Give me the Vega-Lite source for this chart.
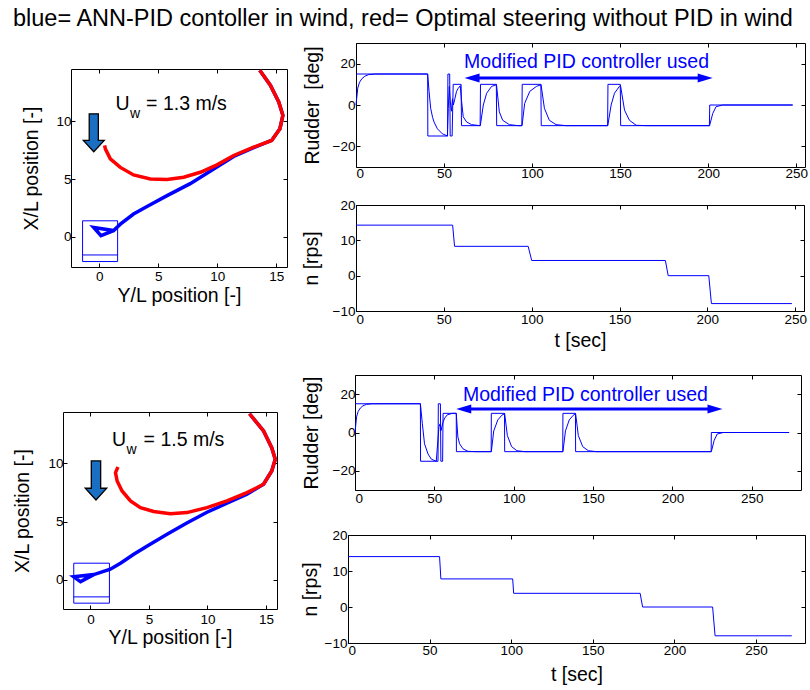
{
  "$schema": "https://vega.github.io/schema/vega-lite/v6.json",
  "padding": {"left": 12, "top": 6, "right": 0, "bottom": 0},
  "title": {"text": "blue= ANN-PID contoller in wind, red= Optimal steering without PID in wind", "anchor": "start", "frame": "group", "dx": -50, "fontSize": 23.5, "fontWeight": "normal", "color": "black", "offset": 12},
  "datasets": {
    "traj1": [
      {"p":"blue","i":0,"x":13.59,"y":14.4},{"p":"blue","i":1,"x":14.49,"y":13.1},{"p":"blue","i":2,"x":15.2,"y":11.65},{"p":"blue","i":3,"x":15.55,"y":10.5},{"p":"blue","i":4,"x":15.3,"y":9.34},{"p":"blue","i":5,"x":14.6,"y":8.33},{"p":"blue","i":6,"x":13.08,"y":7.7},{"p":"blue","i":7,"x":11.38,"y":6.95},{"p":"blue","i":8,"x":9.69,"y":5.87},{"p":"blue","i":9,"x":7.7,"y":4.6},{"p":"blue","i":10,"x":5.74,"y":3.56},{"p":"blue","i":11,"x":4.0,"y":2.6},{"p":"blue","i":12,"x":2.9,"y":1.97},{"p":"blue","i":13,"x":1.78,"y":1.1},{"p":"blue","i":14,"x":1.21,"y":0.55},{"p":"blue","i":15,"x":-0.48,"y":0.82},{"p":"blue","i":16,"x":0.14,"y":0.1},{"p":"blue","i":17,"x":1.21,"y":0.55},
      {"p":"red","i":0,"x":13.59,"y":14.4},{"p":"red","i":1,"x":14.49,"y":13.1},{"p":"red","i":2,"x":15.2,"y":11.65},{"p":"red","i":3,"x":15.55,"y":10.5},{"p":"red","i":4,"x":15.3,"y":9.34},{"p":"red","i":5,"x":14.6,"y":8.33},{"p":"red","i":6,"x":13.08,"y":7.75},{"p":"red","i":7,"x":11.38,"y":7.03},{"p":"red","i":8,"x":9.97,"y":6.22},{"p":"red","i":9,"x":8.56,"y":5.58},{"p":"red","i":10,"x":7.15,"y":5.15},{"p":"red","i":11,"x":5.74,"y":4.95},{"p":"red","i":12,"x":4.32,"y":5.0},{"p":"red","i":13,"x":2.9,"y":5.35},{"p":"red","i":14,"x":1.78,"y":6.0},{"p":"red","i":15,"x":0.93,"y":6.74},{"p":"red","i":16,"x":0.51,"y":7.6},{"p":"red","i":17,"x":0.45,"y":7.9}
    ],
    "traj2": [
      {"p":"blue","i":0,"x":13.6,"y":14.25},{"p":"blue","i":1,"x":14.8,"y":12.77},{"p":"blue","i":2,"x":15.5,"y":11.34},{"p":"blue","i":3,"x":15.8,"y":10.34},{"p":"blue","i":4,"x":15.5,"y":9.34},{"p":"blue","i":5,"x":14.8,"y":8.2},{"p":"blue","i":6,"x":13.38,"y":7.35},{"p":"blue","i":7,"x":11.67,"y":6.57},{"p":"blue","i":8,"x":9.96,"y":5.8},{"p":"blue","i":9,"x":8.2,"y":4.85},{"p":"blue","i":10,"x":6.55,"y":3.91},{"p":"blue","i":11,"x":5.0,"y":3.0},{"p":"blue","i":12,"x":3.7,"y":2.2},{"p":"blue","i":13,"x":2.6,"y":1.45},{"p":"blue","i":14,"x":1.7,"y":0.91},{"p":"blue","i":15,"x":0.28,"y":0.45},{"p":"blue","i":16,"x":-1.43,"y":0.26},{"p":"blue","i":17,"x":-0.85,"y":-0.15},{"p":"blue","i":18,"x":0.28,"y":0.45},
      {"p":"red","i":0,"x":13.6,"y":14.25},{"p":"red","i":1,"x":14.8,"y":12.77},{"p":"red","i":2,"x":15.5,"y":11.34},{"p":"red","i":3,"x":15.8,"y":10.34},{"p":"red","i":4,"x":15.5,"y":9.34},{"p":"red","i":5,"x":14.8,"y":8.2},{"p":"red","i":6,"x":13.38,"y":7.48},{"p":"red","i":7,"x":11.67,"y":6.77},{"p":"red","i":8,"x":9.96,"y":6.2},{"p":"red","i":9,"x":8.25,"y":5.77},{"p":"red","i":10,"x":6.83,"y":5.68},{"p":"red","i":11,"x":5.4,"y":5.86},{"p":"red","i":12,"x":4.27,"y":6.2},{"p":"red","i":13,"x":3.42,"y":6.77},{"p":"red","i":14,"x":2.7,"y":7.63},{"p":"red","i":15,"x":2.28,"y":8.48},{"p":"red","i":16,"x":2.14,"y":9.2},{"p":"red","i":17,"x":2.35,"y":9.68}
    ],
    "rud1": [
      {"s":"cmd","i":0,"t":0,"v":15},{"s":"cmd","i":1,"t":40.7,"v":15},{"s":"cmd","i":2,"t":40.8,"v":-15},{"s":"cmd","i":3,"t":52.0,"v":-15},{"s":"cmd","i":4,"t":52.2,"v":15},{"s":"cmd","i":5,"t":53.2,"v":15},{"s":"cmd","i":6,"t":53.5,"v":-15},{"s":"cmd","i":7,"t":54.6,"v":-15},{"s":"cmd","i":8,"t":55.2,"v":10},{"s":"cmd","i":9,"t":59.7,"v":10},{"s":"cmd","i":10,"t":59.9,"v":-10},{"s":"cmd","i":11,"t":70.5,"v":-10},{"s":"cmd","i":12,"t":70.7,"v":10},{"s":"cmd","i":13,"t":79.7,"v":10},{"s":"cmd","i":14,"t":79.9,"v":-10},{"s":"cmd","i":15,"t":94.2,"v":-10},{"s":"cmd","i":16,"t":94.4,"v":10},{"s":"cmd","i":17,"t":105,"v":10},{"s":"cmd","i":18,"t":105.2,"v":-10},{"s":"cmd","i":19,"t":142.9,"v":-10},{"s":"cmd","i":20,"t":143.1,"v":10},{"s":"cmd","i":21,"t":150.1,"v":10},{"s":"cmd","i":22,"t":150.3,"v":-10},{"s":"cmd","i":23,"t":200.7,"v":-10},{"s":"cmd","i":24,"t":200.9,"v":0},{"s":"cmd","i":25,"t":248,"v":0},
      {"s":"act","i":0,"t":0,"v":0},{"s":"act","i":1,"t":1,"v":8.2},{"s":"act","i":2,"t":2,"v":11},{"s":"act","i":3,"t":3.4,"v":12.8},{"s":"act","i":4,"t":5,"v":13.9},{"s":"act","i":5,"t":7.2,"v":14.7},{"s":"act","i":6,"t":11,"v":15},{"s":"act","i":7,"t":40.7,"v":15},{"s":"act","i":8,"t":41.5,"v":6.6},{"s":"act","i":9,"t":42.4,"v":-1.6},{"s":"act","i":10,"t":43.5,"v":-6},{"s":"act","i":11,"t":44.3,"v":-8.2},{"s":"act","i":12,"t":46.2,"v":-11.5},{"s":"act","i":13,"t":49,"v":-13.9},{"s":"act","i":14,"t":51.9,"v":-15},{"s":"act","i":15,"t":52.4,"v":-1.6},{"s":"act","i":16,"t":53,"v":9},{"s":"act","i":17,"t":53.5,"v":2},{"s":"act","i":18,"t":54.2,"v":-3},{"s":"act","i":19,"t":54.8,"v":3},{"s":"act","i":20,"t":55.3,"v":0},{"s":"act","i":21,"t":56,"v":2.5},{"s":"act","i":22,"t":57.1,"v":6.6},{"s":"act","i":23,"t":58,"v":8},{"s":"act","i":24,"t":59.2,"v":9.3},{"s":"act","i":25,"t":60,"v":1.6},{"s":"act","i":26,"t":60.9,"v":-5.7},{"s":"act","i":27,"t":62.8,"v":-8.2},{"s":"act","i":28,"t":65.6,"v":-9.5},{"s":"act","i":29,"t":70.6,"v":-10},{"s":"act","i":30,"t":72.3,"v":0},{"s":"act","i":31,"t":74.2,"v":5.7},{"s":"act","i":32,"t":77,"v":9},{"s":"act","i":33,"t":79.8,"v":9.8},{"s":"act","i":34,"t":81.4,"v":-3.3},{"s":"act","i":35,"t":83.3,"v":-7.4},{"s":"act","i":36,"t":87.1,"v":-9.5},{"s":"act","i":37,"t":92,"v":-10},{"s":"act","i":38,"t":94.3,"v":-10},{"s":"act","i":39,"t":95.8,"v":0.8},{"s":"act","i":40,"t":98.7,"v":6.6},{"s":"act","i":41,"t":102.5,"v":9},{"s":"act","i":42,"t":105.1,"v":9.8},{"s":"act","i":43,"t":107,"v":-1.6},{"s":"act","i":44,"t":109.8,"v":-7.4},{"s":"act","i":45,"t":113.6,"v":-9.5},{"s":"act","i":46,"t":119.3,"v":-10},{"s":"act","i":47,"t":143,"v":-10},{"s":"act","i":48,"t":144.9,"v":0},{"s":"act","i":49,"t":146.8,"v":5.7},{"s":"act","i":50,"t":149.6,"v":9},{"s":"act","i":51,"t":150.2,"v":9.5},{"s":"act","i":52,"t":152.5,"v":-2.5},{"s":"act","i":53,"t":155.3,"v":-7.4},{"s":"act","i":54,"t":159.1,"v":-9.8},{"s":"act","i":55,"t":165,"v":-10},{"s":"act","i":56,"t":200.8,"v":-10},{"s":"act","i":57,"t":202.6,"v":-4.1},{"s":"act","i":58,"t":204.5,"v":-0.8},{"s":"act","i":59,"t":208.3,"v":0},{"s":"act","i":60,"t":248,"v":0}
    ],
    "rud2": [
      {"s":"cmd","i":0,"t":0,"v":15},{"s":"cmd","i":1,"t":41.2,"v":15},{"s":"cmd","i":2,"t":41.3,"v":-15},{"s":"cmd","i":3,"t":52.3,"v":-15},{"s":"cmd","i":4,"t":52.5,"v":15},{"s":"cmd","i":5,"t":53.8,"v":15},{"s":"cmd","i":6,"t":54.1,"v":-15},{"s":"cmd","i":7,"t":55.2,"v":-15},{"s":"cmd","i":8,"t":55.5,"v":10},{"s":"cmd","i":9,"t":63.8,"v":10},{"s":"cmd","i":10,"t":63.9,"v":-10},{"s":"cmd","i":11,"t":85.8,"v":-10},{"s":"cmd","i":12,"t":85.9,"v":10},{"s":"cmd","i":13,"t":94.2,"v":10},{"s":"cmd","i":14,"t":94.3,"v":-10},{"s":"cmd","i":15,"t":130.9,"v":-10},{"s":"cmd","i":16,"t":131,"v":10},{"s":"cmd","i":17,"t":138.9,"v":10},{"s":"cmd","i":18,"t":139,"v":-10},{"s":"cmd","i":19,"t":224.4,"v":-10},{"s":"cmd","i":20,"t":224.5,"v":0},{"s":"cmd","i":21,"t":273.5,"v":0},
      {"s":"act","i":0,"t":0,"v":0},{"s":"act","i":1,"t":1,"v":8.2},{"s":"act","i":2,"t":2,"v":11},{"s":"act","i":3,"t":3.4,"v":12.8},{"s":"act","i":4,"t":5,"v":13.9},{"s":"act","i":5,"t":7.2,"v":14.7},{"s":"act","i":6,"t":11,"v":15},{"s":"act","i":7,"t":41.2,"v":15},{"s":"act","i":8,"t":42.4,"v":4.8},{"s":"act","i":9,"t":43.8,"v":-5.9},{"s":"act","i":10,"t":46,"v":-11.2},{"s":"act","i":11,"t":48.1,"v":-13.9},{"s":"act","i":12,"t":51.2,"v":-15},{"s":"act","i":13,"t":52.9,"v":3},{"s":"act","i":14,"t":53.6,"v":4.5},{"s":"act","i":15,"t":54.2,"v":1},{"s":"act","i":16,"t":55.3,"v":5},{"s":"act","i":17,"t":56.5,"v":7.5},{"s":"act","i":18,"t":58.1,"v":9.2},{"s":"act","i":19,"t":61.3,"v":10},{"s":"act","i":20,"t":63.8,"v":10},{"s":"act","i":21,"t":64.8,"v":-2.3},{"s":"act","i":22,"t":65.9,"v":-5.9},{"s":"act","i":23,"t":68,"v":-8.5},{"s":"act","i":24,"t":71.1,"v":-9.8},{"s":"act","i":25,"t":76,"v":-10},{"s":"act","i":26,"t":85.9,"v":-10},{"s":"act","i":27,"t":87.4,"v":0.8},{"s":"act","i":28,"t":90,"v":6.6},{"s":"act","i":29,"t":92.5,"v":9},{"s":"act","i":30,"t":94.3,"v":9.8},{"s":"act","i":31,"t":96,"v":-1.6},{"s":"act","i":32,"t":98.7,"v":-7.4},{"s":"act","i":33,"t":102,"v":-9.5},{"s":"act","i":34,"t":107,"v":-10},{"s":"act","i":35,"t":131,"v":-10},{"s":"act","i":36,"t":132.6,"v":0.8},{"s":"act","i":37,"t":135,"v":6.6},{"s":"act","i":38,"t":137.5,"v":9},{"s":"act","i":39,"t":139,"v":9.8},{"s":"act","i":40,"t":140.7,"v":-1.6},{"s":"act","i":41,"t":143.5,"v":-7.4},{"s":"act","i":42,"t":147,"v":-9.5},{"s":"act","i":43,"t":152,"v":-10},{"s":"act","i":44,"t":224.5,"v":-10},{"s":"act","i":45,"t":226.3,"v":-4.1},{"s":"act","i":46,"t":228.2,"v":-0.8},{"s":"act","i":47,"t":232,"v":0},{"s":"act","i":48,"t":273.5,"v":0}
    ],
    "n1": [
      {"i":0,"t":0,"v":14.3},{"i":1,"t":55,"v":14.3},{"i":2,"t":56.1,"v":8.3},{"i":3,"t":98,"v":8.3},{"i":4,"t":100,"v":4.3},{"i":5,"t":176.1,"v":4.3},{"i":6,"t":177.7,"v":0},{"i":7,"t":200.8,"v":0},{"i":8,"t":202.3,"v":-7.9},{"i":9,"t":248.1,"v":-7.9}
    ],
    "n2": [
      {"i":0,"t":0,"v":14},{"i":1,"t":56.1,"v":14},{"i":2,"t":56.9,"v":7.8},{"i":3,"t":100.9,"v":7.8},{"i":4,"t":101.5,"v":3.8},{"i":5,"t":179,"v":3.8},{"i":6,"t":180.5,"v":0},{"i":7,"t":223.4,"v":0},{"i":8,"t":224.9,"v":-8},{"i":9,"t":271.9,"v":-8}
    ]
  },
  "spacing": 23,
  "vconcat": [
    {
      "spacing": 12,
      "hconcat": [
        {
          "spacing": 0,
          "vconcat": [
            {"width": 1, "height": 25, "data": {"values": []}, "mark": "point", "view": {"stroke": null}},
            {
              "spacing": -43,
              "hconcat": [
                {"width": 1, "height": 1, "data": {"values": []}, "mark": "point", "view": {"stroke": null}},
                {
                  "width": 216, "height": 198,
                  "view": {"stroke": "black", "strokeWidth": 1},
                  "resolve": {"axis": {"x": "independent", "y": "independent"}},
                  "encoding": {
                    "x": {"field": "x", "type": "quantitative", "scale": {"domain": [-2.4, 15.9], "nice": false, "zero": false}, "axis": null},
                    "y": {"field": "y", "type": "quantitative", "scale": {"domain": [-2.6, 14.5], "nice": false, "zero": false}, "axis": null}
                  },
                  "layer": [
                    {
                      "data": {"name": "traj1"},
                      "transform": [{"filter": "datum.p == 'blue'"}],
                      "mark": {"type": "line", "color": "#0000ff", "strokeWidth": 3.5, "clip": true},
                      "encoding": {
                        "x": {"field": "x", "type": "quantitative", "scale": {"domain": [-2.4, 15.9], "nice": false, "zero": false}, "axis": {"orient": "bottom", "values": [0, 5, 10, 15], "title": "Y/L position [-]", "labelPadding": 6, "titlePadding": 4}},
                        "y": {"field": "y", "type": "quantitative", "scale": {"domain": [-2.6, 14.5], "nice": false, "zero": false}, "axis": {"orient": "left", "values": [0, 5, 10], "title": "X/L position [-]", "titlePadding": 14}},
                        "order": {"field": "i", "type": "quantitative"}
                      }
                    },
                    {
                      "data": {"name": "traj1"},
                      "transform": [{"filter": "datum.p == 'red'"}],
                      "mark": {"type": "line", "color": "#ff0000", "strokeWidth": 3.5, "clip": true},
                      "encoding": {"order": {"field": "i", "type": "quantitative"}}
                    },
                    {
                      "data": {"values": [{"x": -1.42, "x2": 1.55, "y": -2.13, "y2": 1.39}]},
                      "mark": {"type": "rect", "fill": "transparent", "stroke": "#0000ff", "strokeWidth": 1},
                      "encoding": {
                        "x": {"field": "x", "type": "quantitative", "scale": {"domain": [-2.4, 15.9], "nice": false, "zero": false}, "axis": {"orient": "top", "values": [0, 5, 10, 15], "labels": false, "title": null}},
                        "x2": {"field": "x2"},
                        "y": {"field": "y", "type": "quantitative", "scale": {"domain": [-2.6, 14.5], "nice": false, "zero": false}, "axis": {"orient": "right", "values": [0, 5, 10], "labels": false, "title": null}},
                        "y2": {"field": "y2"}
                      }
                    },
                    {
                      "data": {"values": [{"x": -1.42, "x2": 1.55, "y": -1.56}]},
                      "mark": {"type": "rule", "color": "#0000ff", "strokeWidth": 1},
                      "encoding": {"x2": {"field": "x2"}}
                    },
                    {
                      "data": {"values": [{"x": -0.47, "y": 8.99}]},
                      "mark": {"type": "point", "shape": "M-0.24,-1L0.24,-1L0.24,0.4L0.55,0.4L0,1L-0.55,0.4L-0.24,0.4Z", "size": 1444, "filled": true, "fill": "#1b6fc2", "stroke": "black", "strokeWidth": 1.3, "opacity": 1},
                      "encoding": {}
                    },
                    {
                      "data": {"values": [{"x": 1.36, "y": 11.0, "u": "U", "w": "w", "r": "= 1.3 m/s"}]},
                      "layer": [
                        {"mark": {"type": "text", "align": "left", "baseline": "alphabetic", "fontSize": 19.5, "color": "black"}, "encoding": {"text": {"field": "u"}}},
                        {"mark": {"type": "text", "align": "left", "baseline": "alphabetic", "fontSize": 14, "dx": 14.5, "dy": 8, "color": "black"}, "encoding": {"text": {"field": "w"}}},
                        {"mark": {"type": "text", "align": "left", "baseline": "alphabetic", "fontSize": 19.5, "dx": 30.7, "color": "black"}, "encoding": {"text": {"field": "r"}}}
                      ]
                    }
                  ]
                }
              ]
            }
          ]
        },
        {
          "spacing": 17,
          "vconcat": [
            {
              "width": 449, "height": 124,
              "view": {"stroke": "black", "strokeWidth": 1},
              "resolve": {"axis": {"x": "independent", "y": "independent"}},
              "encoding": {
                "x": {"field": "t", "type": "quantitative", "scale": {"domain": [0, 255], "nice": false, "zero": false}, "axis": null},
                "y": {"field": "v", "type": "quantitative", "scale": {"domain": [-30, 30], "nice": false, "zero": false}, "axis": null}
              },
              "layer": [
                {
                  "data": {"name": "rud1"},
                  "mark": {"type": "line", "color": "#0000ff", "strokeWidth": 1},
                  "encoding": {
                    "x": {"field": "t", "type": "quantitative", "scale": {"domain": [0, 255], "nice": false, "zero": false}, "axis": {"orient": "bottom", "values": [0, 50, 100, 150, 200, 250], "title": null, "labelPadding": 3}},
                    "y": {"field": "v", "type": "quantitative", "scale": {"domain": [-30, 30], "nice": false, "zero": false}, "axis": {"orient": "left", "values": [-20, 0, 20], "title": "Rudder\u00a0 [deg]", "labelPadding": 5, "titlePadding": 10}},
                    "detail": {"field": "s"},
                    "order": {"field": "i", "type": "quantitative"}
                  }
                },
                {
                  "data": {"values": [{"t": 65.9, "t2": 198.3, "v": 13.1}]},
                  "mark": {"type": "rule", "color": "#0000ff", "strokeWidth": 3},
                  "encoding": {
                    "x": {"field": "t", "type": "quantitative", "scale": {"domain": [0, 255], "nice": false, "zero": false}, "axis": {"orient": "top", "values": [0, 50, 100, 150, 200, 250], "labels": false, "title": null}},
                    "x2": {"field": "t2"},
                    "y": {"field": "v", "type": "quantitative", "scale": {"domain": [-30, 30], "nice": false, "zero": false}, "axis": {"orient": "right", "values": [-20, 0, 20], "labels": false, "title": null}}
                  }
                },
                {
                  "data": {"values": [{"t": 65.9, "v": 13.1, "dir": "L"}, {"t": 198.3, "v": 13.1, "dir": "R"}]},
                  "mark": {"type": "point", "filled": true, "color": "#0000ff", "size": 225, "opacity": 1},
                  "encoding": {"shape": {"field": "dir", "type": "nominal", "scale": {"domain": ["L", "R"], "range": ["M-1,0L1,-0.6L1,0.6Z", "M1,0L-1,-0.6L-1,0.6Z"]}, "legend": null}}
                },
                {
                  "data": {"values": [{"t": 61.4, "v": 18.1, "label": "Modified PID controller used"}]},
                  "mark": {"type": "text", "align": "left", "baseline": "alphabetic", "fontSize": 19.5, "color": "#0000ff"},
                  "encoding": {"text": {"field": "label"}}
                }
              ]
            },
            {
              "width": 448, "height": 106,
              "view": {"stroke": "black", "strokeWidth": 1},
              "resolve": {"axis": {"x": "independent", "y": "independent"}},
              "data": {"name": "n1"},
              "layer": [
                {
                  "mark": {"type": "line", "color": "#0000ff", "strokeWidth": 1},
                  "encoding": {
                    "x": {"field": "t", "type": "quantitative", "scale": {"domain": [0, 255], "nice": false, "zero": false}, "axis": {"orient": "bottom", "values": [0, 50, 100, 150, 200, 250], "title": "t [sec]", "labelPadding": 5, "titlePadding": 6}},
                    "y": {"field": "v", "type": "quantitative", "scale": {"domain": [-10, 20], "nice": false, "zero": false}, "axis": {"orient": "left", "values": [-10, 0, 10, 20], "title": "n [rps]", "labelPadding": 5, "titlePadding": 11}},
                    "order": {"field": "i", "type": "quantitative"}
                  }
                },
                {
                  "mark": {"type": "point", "opacity": 0},
                  "encoding": {
                    "x": {"field": "t", "type": "quantitative", "scale": {"domain": [0, 255], "nice": false, "zero": false}, "axis": {"orient": "top", "values": [0, 50, 100, 150, 200, 250], "labels": false, "title": null}},
                    "y": {"field": "v", "type": "quantitative", "scale": {"domain": [-10, 20], "nice": false, "zero": false}, "axis": {"orient": "right", "values": [-10, 0, 10, 20], "labels": false, "title": null}}
                  }
                }
              ]
            }
          ]
        }
      ]
    },
    {
      "spacing": 21,
      "hconcat": [
        {
          "spacing": 0,
          "vconcat": [
            {"width": 1, "height": 36, "data": {"values": []}, "mark": "point", "view": {"stroke": null}},
            {
              "width": 214, "height": 197,
              "view": {"stroke": "black", "strokeWidth": 1},
              "resolve": {"axis": {"x": "independent", "y": "independent"}},
              "encoding": {
                "x": {"field": "x", "type": "quantitative", "scale": {"domain": [-2.35, 15.95], "nice": false, "zero": false}, "axis": null},
                "y": {"field": "y", "type": "quantitative", "scale": {"domain": [-2.5, 14.4], "nice": false, "zero": false}, "axis": null}
              },
              "layer": [
                {
                  "data": {"name": "traj2"},
                  "transform": [{"filter": "datum.p == 'blue'"}],
                  "mark": {"type": "line", "color": "#0000ff", "strokeWidth": 3.5, "clip": true},
                  "encoding": {
                    "x": {"field": "x", "type": "quantitative", "scale": {"domain": [-2.35, 15.95], "nice": false, "zero": false}, "axis": {"orient": "bottom", "values": [0, 5, 10, 15], "title": "Y/L position [-]", "labelPadding": 7, "titlePadding": 3}},
                    "y": {"field": "y", "type": "quantitative", "scale": {"domain": [-2.5, 14.4], "nice": false, "zero": false}, "axis": {"orient": "left", "values": [0, 5, 10], "title": "X/L position [-]", "titlePadding": 15}},
                    "order": {"field": "i", "type": "quantitative"}
                  }
                },
                {
                  "data": {"name": "traj2"},
                  "transform": [{"filter": "datum.p == 'red'"}],
                  "mark": {"type": "line", "color": "#ff0000", "strokeWidth": 3.5, "clip": true},
                  "encoding": {"order": {"field": "i", "type": "quantitative"}}
                },
                {
                  "data": {"values": [{"x": -1.43, "x2": 1.62, "y": -2.0, "y2": 1.43}]},
                  "mark": {"type": "rect", "fill": "transparent", "stroke": "#0000ff", "strokeWidth": 1},
                  "encoding": {
                    "x": {"field": "x", "type": "quantitative", "scale": {"domain": [-2.35, 15.95], "nice": false, "zero": false}, "axis": {"orient": "top", "values": [0, 5, 10, 15], "labels": false, "title": null}},
                    "x2": {"field": "x2"},
                    "y": {"field": "y", "type": "quantitative", "scale": {"domain": [-2.5, 14.4], "nice": false, "zero": false}, "axis": {"orient": "right", "values": [0, 5, 10], "labels": false, "title": null}},
                    "y2": {"field": "y2"}
                  }
                },
                {
                  "data": {"values": [{"x": -1.43, "x2": 1.62, "y": -1.46}]},
                  "mark": {"type": "rule", "color": "#0000ff", "strokeWidth": 1},
                  "encoding": {"x2": {"field": "x2"}}
                },
                {
                  "data": {"values": [{"x": 0.47, "y": 8.53}]},
                  "mark": {"type": "point", "shape": "M-0.24,-1L0.24,-1L0.24,0.4L0.55,0.4L0,1L-0.55,0.4L-0.24,0.4Z", "size": 1521, "filled": true, "fill": "#1b6fc2", "stroke": "black", "strokeWidth": 1.3, "opacity": 1},
                  "encoding": {}
                },
                {
                  "data": {"values": [{"x": 1.85, "y": 11.48, "u": "U", "w": "w", "r": "= 1.5 m/s"}]},
                  "layer": [
                    {"mark": {"type": "text", "align": "left", "baseline": "alphabetic", "fontSize": 19.5, "color": "black"}, "encoding": {"text": {"field": "u"}}},
                    {"mark": {"type": "text", "align": "left", "baseline": "alphabetic", "fontSize": 14, "dx": 14.5, "dy": 8, "color": "black"}, "encoding": {"text": {"field": "w"}}},
                    {"mark": {"type": "text", "align": "left", "baseline": "alphabetic", "fontSize": 19.5, "dx": 31.5, "color": "black"}, "encoding": {"text": {"field": "r"}}}
                  ]
                }
              ]
            }
          ]
        },
        {
          "spacing": 22,
          "vconcat": [
            {
              "spacing": -49,
              "hconcat": [
                {"width": 1, "height": 1, "data": {"values": []}, "mark": "point", "view": {"stroke": null}},
                {
                  "width": 446, "height": 115,
                  "view": {"stroke": "black", "strokeWidth": 1},
                  "resolve": {"axis": {"x": "independent", "y": "independent"}},
                  "encoding": {
                    "x": {"field": "t", "type": "quantitative", "scale": {"domain": [0, 281], "nice": false, "zero": false}, "axis": null},
                    "y": {"field": "v", "type": "quantitative", "scale": {"domain": [-30, 30], "nice": false, "zero": false}, "axis": null}
                  },
                  "layer": [
                    {
                      "data": {"name": "rud2"},
                      "mark": {"type": "line", "color": "#0000ff", "strokeWidth": 1},
                      "encoding": {
                        "x": {"field": "t", "type": "quantitative", "scale": {"domain": [0, 281], "nice": false, "zero": false}, "axis": {"orient": "bottom", "values": [0, 50, 100, 150, 200, 250], "title": null, "labelPadding": 5}},
                        "y": {"field": "v", "type": "quantitative", "scale": {"domain": [-30, 30], "nice": false, "zero": false}, "axis": {"orient": "left", "values": [-20, 0, 20], "title": "Rudder [deg]", "labelPadding": 4, "titlePadding": 11}},
                        "detail": {"field": "s"},
                        "order": {"field": "i", "type": "quantitative"}
                      }
                    },
                    {
                      "data": {"values": [{"t": 68.5, "t2": 226.8, "v": 12.3}]},
                      "mark": {"type": "rule", "color": "#0000ff", "strokeWidth": 3},
                      "encoding": {
                        "x": {"field": "t", "type": "quantitative", "scale": {"domain": [0, 281], "nice": false, "zero": false}, "axis": {"orient": "top", "values": [0, 50, 100, 150, 200, 250], "labels": false, "title": null}},
                        "x2": {"field": "t2"},
                        "y": {"field": "v", "type": "quantitative", "scale": {"domain": [-30, 30], "nice": false, "zero": false}, "axis": {"orient": "right", "values": [-20, 0, 20], "labels": false, "title": null}}
                      }
                    },
                    {
                      "data": {"values": [{"t": 68.5, "v": 12.3, "dir": "L"}, {"t": 226.8, "v": 12.3, "dir": "R"}]},
                      "mark": {"type": "point", "filled": true, "color": "#0000ff", "size": 225, "opacity": 1},
                      "encoding": {"shape": {"field": "dir", "type": "nominal", "scale": {"domain": ["L", "R"], "range": ["M-1,0L1,-0.6L1,0.6Z", "M1,0L-1,-0.6L-1,0.6Z"]}, "legend": null}}
                    },
                    {
                      "data": {"values": [{"t": 68, "v": 16.3, "label": "Modified PID controller used"}]},
                      "mark": {"type": "text", "align": "left", "baseline": "alphabetic", "fontSize": 19.5, "color": "#0000ff"},
                      "encoding": {"text": {"field": "label"}}
                    }
                  ]
                }
              ]
            },
            {
              "width": 457, "height": 108,
              "view": {"stroke": "black", "strokeWidth": 1},
              "resolve": {"axis": {"x": "independent", "y": "independent"}},
              "data": {"name": "n2"},
              "layer": [
                {
                  "mark": {"type": "line", "color": "#0000ff", "strokeWidth": 1},
                  "encoding": {
                    "x": {"field": "t", "type": "quantitative", "scale": {"domain": [0, 280], "nice": false, "zero": false}, "axis": {"orient": "bottom", "values": [0, 50, 100, 150, 200, 250], "title": "t [sec]", "labelPadding": 4, "titlePadding": 9}},
                    "y": {"field": "v", "type": "quantitative", "scale": {"domain": [-10, 20], "nice": false, "zero": false}, "axis": {"orient": "left", "values": [-10, 0, 10, 20], "title": "n [rps]", "labelPadding": 5, "titlePadding": 4}},
                    "order": {"field": "i", "type": "quantitative"}
                  }
                },
                {
                  "mark": {"type": "point", "opacity": 0},
                  "encoding": {
                    "x": {"field": "t", "type": "quantitative", "scale": {"domain": [0, 280], "nice": false, "zero": false}, "axis": {"orient": "top", "values": [0, 50, 100, 150, 200, 250], "labels": false, "title": null}},
                    "y": {"field": "v", "type": "quantitative", "scale": {"domain": [-10, 20], "nice": false, "zero": false}, "axis": {"orient": "right", "values": [-10, 0, 10, 20], "labels": false, "title": null}}
                  }
                }
              ]
            }
          ]
        }
      ]
    }
  ],
  "config": {
    "font": "Liberation Sans",
    "view": {"stroke": null},
    "axis": {"labelFontSize": 13.5, "labelColor": "black", "titleFontSize": 19.5, "titleFontWeight": "normal", "titleColor": "black", "tickColor": "black", "tickSize": -4, "tickWidth": 1, "domain": false, "grid": false, "labelPadding": 4}
  }
}
